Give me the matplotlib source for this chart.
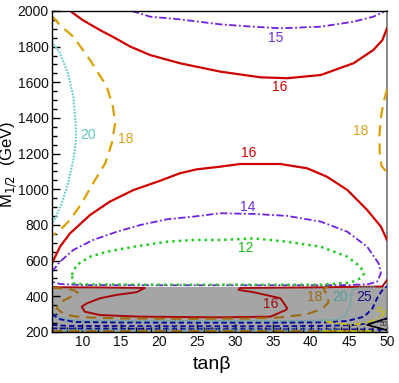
import matplotlib
matplotlib.use("Agg")
import matplotlib.pyplot as plt
from matplotlib.ticker import MultipleLocator

plt.rcParams['font.family'] = ['Liberation Sans', 'DejaVu Sans']

# ---- data (tanβ, M_1/2 in GeV) ----
x_range = [6, 50]
y_range = [200, 2000]
x_ticks = [10, 15, 20, 25, 30, 35, 40, 45, 50]
y_ticks = [200, 400, 600, 800, 1000, 1200, 1400, 1600, 1800, 2000]
excluded_top = 455  # grey excluded band top

red16_top_x = [8.4, 10, 12.3, 14, 16.3, 18.9, 22.8, 28.1, 33.4, 36.9, 41.3, 45.6, 48.2, 49.4, 50]
red16_top_y = [2000, 1950, 1893, 1855, 1800, 1753, 1707, 1660, 1628, 1623, 1641, 1707, 1781, 1837, 1903]

purple15_x = [16.5, 18.9, 22.8, 28.1, 32.4, 36, 41.3, 45.6, 48.2, 49.6]
purple15_y = [2000, 1968, 1953, 1925, 1912, 1903, 1912, 1940, 1968, 1996]

gold18_left_x = [6, 7.05, 8.8, 11, 13.2, 14.0, 14.3, 13.85, 13.0, 11.4, 9.9, 8.37, 6.83, 6.1]
gold18_left_y = [1972, 1921, 1856, 1725, 1576, 1463, 1371, 1258, 1146, 1034, 922, 828, 762, 744]

cyan20_left_x = [6, 7.05, 8.1, 8.8, 9.1, 9.15, 9.0, 8.8, 8.1, 7.3, 6.2, 6]
cyan20_left_y = [1828, 1763, 1651, 1520, 1370, 1290, 1220, 1165, 1034, 922, 819, 800]

gold18_right_x = [50, 49.5, 49.2, 49.0, 49.05, 49.3, 50]
gold18_right_y = [1560, 1480, 1400, 1300, 1200, 1130, 1095]

red16_mid_x = [6, 7.05, 8.37, 11, 13.6, 16.7, 20.2, 22.8, 25, 28.1, 30.7, 36, 39.5, 42.1, 44.8, 47.4, 49.2, 50]
red16_mid_y = [585, 678, 753, 856, 931, 996, 1048, 1090, 1112, 1127, 1142, 1142, 1118, 1071, 996, 884, 791, 716]

purple14_x = [6, 7.05, 8.8, 11.4, 14.5, 17.6, 21.1, 24.6, 28.1, 32.5, 36.9, 41.3, 44.8, 47.4, 48.9, 49.2,
              48.7, 47.5, 45, 40, 30, 20, 10, 7.05, 6]
purple14_y = [538, 594, 660, 716, 762, 800, 832, 847, 866, 862, 851, 819, 762, 678, 585, 529,
              482, 468, 463, 462, 462, 462, 463, 469, 482]

green12_x = [8.6, 9.25, 11, 13.2, 16.7, 21.1, 24.6, 28.1, 32.5, 36.9, 41.3, 44.8, 46.5, 47, 46.5, 45.2,
             41.3, 30, 20, 10, 8.8, 8.6]
green12_y = [520, 576, 622, 650, 678, 706, 716, 716, 725, 706, 678, 622, 566, 529, 501, 477,
             465, 465, 465, 467, 474, 520]

red16_low_x = [6, 12, 18.2, 17.1, 14.5, 12.3, 10.6, 9.9, 10.3, 12.3, 17.6, 28.1, 34.7, 36.7, 36.9, 36,
               32.5, 30.5, 30.7, 40, 49.4, 50]
red16_low_y = [451, 450, 447, 423, 408, 389, 361, 342, 314, 295, 286, 282, 286, 323, 333, 389,
               423, 436, 447, 450, 455, 492]

gold18_low_x = [6, 7.5, 8.8, 9.4, 8.6, 7.6, 6.8, 6.6, 7.1, 7.8, 9, 11, 15, 25, 32, 36, 39.5, 41.5,
                42.3, 42.3, 41.8, 41.7, 42.3]
gold18_low_y = [448, 444, 436, 420, 400, 378, 355, 335, 315, 298, 288, 281, 276, 274, 276, 282, 300, 330,
                365, 400, 430, 445, 453]

cyan20_low_x = [6, 6.6, 7.9, 10, 20, 30, 40, 43.5, 44.5, 45.1, 45.3, 45.5, 46.5, 48.5]
cyan20_low_y = [310, 285, 267, 263, 262, 262, 262, 270, 295, 340, 400, 440, 450, 452]

blue25_x = [6, 7, 9, 15, 25, 35, 42, 44.8, 47, 48.1, 48.7, 49.3, 49.8, 50]
blue25_y = [300, 272, 256, 253, 252, 252, 254, 262, 286, 333, 389, 430, 451, 455]

blue_b_x = [6, 8, 20, 35, 42, 46, 48.5, 50]
blue_b_y = [240, 234, 232, 232, 234, 240, 255, 275]

blue_c_x = [6, 20, 35, 45, 50]
blue_c_y = [220, 216, 215, 214, 214]

cyan_b_x = [6, 20, 35, 44]
cyan_b_y = [209, 209, 209, 209]

gold_b_x = [6, 20, 35, 47]
gold_b_y = [203, 203, 203, 203]

yellow35_x = [42, 44, 45.6, 47.8, 49.2, 49.8]
yellow35_y = [258, 246, 240, 258, 286, 323]
yellow35b_x = [41.5, 44, 47, 48.5]
yellow35b_y = [205, 205, 205, 207]

black50_x = [50, 47.4, 50]
black50_y = [277, 240, 210]

labels = [
    ("15", 35.4, 1847, '#6a2fd6', 10),
    ("16", 35.9, 1576, '#d00000', 10),
    ("20", 10.8, 1305, '#5cc8c8', 10),
    ("18", 15.7, 1282, '#d9a21b', 10),
    ("18", 46.6, 1329, '#d9a21b', 10),
    ("16", 31.9, 1202, '#d00000', 10),
    ("14", 31.7, 903, '#6a2fd6', 10),
    ("12", 31.5, 669, '#22bb22', 10),
    ("16", 34.7, 357, '#a00c0c', 10),
    ("18", 40.5, 395, '#9c6c18', 10),
    ("20", 43.8, 395, '#4f9c9c', 10),
    ("25", 47.0, 395, '#14148c', 10),
    ("35", 49.0, 320, '#c8c000', 5),
    ("50", 49.5, 240, '#222222', 5),
]

# ---- figure ----
fig = plt.figure(figsize=(3.99, 3.83), dpi=100)
ax = fig.add_axes([0.1303, 0.1332, 0.8396, 0.8381])
ax.set_xlim(*x_range)
ax.set_ylim(*y_range)

ax.axhspan(y_range[0], excluded_top, color='#a5a5a5', zorder=1, lw=0)

dash = (0, (5, 3.2))
dashdot = (0, (4, 1.4, 1, 1.4))
dot = (0, (0.8, 0.7))
gdot = (0, (1, 1.6))
bdash = (0, (2.8, 1.6))

ax.plot(red16_top_x, red16_top_y, color='#d00000', lw=1.6, zorder=3)
ax.plot(red16_mid_x, red16_mid_y, color='#d00000', lw=1.6, zorder=3)
ax.plot(purple15_x, purple15_y, color='#7020e0', lw=1.3, ls=dashdot, zorder=3)
ax.plot(purple14_x, purple14_y, color='#7020e0', lw=1.3, ls=dashdot, zorder=3)
ax.plot(gold18_left_x, gold18_left_y, color='#d9a000', lw=1.6, ls=dash, zorder=3)
ax.plot(gold18_right_x, gold18_right_y, color='#d9a000', lw=1.6, ls=dash, zorder=3)
ax.plot(cyan20_left_x, cyan20_left_y, color='#5ccccc', lw=1.5, ls=dot, zorder=3)
ax.plot(green12_x, green12_y, color='#22cc22', lw=1.8, ls=gdot, zorder=3)

ax.plot(red16_low_x, red16_low_y, color='#a80808', lw=1.4, zorder=3)
ax.plot(gold18_low_x, gold18_low_y, color='#9c6c10', lw=1.5, ls=dash, zorder=3)
ax.plot(cyan20_low_x, cyan20_low_y, color='#5aa8a8', lw=1.3, ls=dot, zorder=3)
ax.plot(blue25_x, blue25_y, color='#0a0aa0', lw=1.4, ls=bdash, zorder=3)
ax.plot(blue_b_x, blue_b_y, color='#0a0aa0', lw=1.4, ls=bdash, zorder=3)
ax.plot(blue_c_x, blue_c_y, color='#0a0aa0', lw=1.4, ls=bdash, zorder=3)
ax.plot(cyan_b_x, cyan_b_y, color='#5aa8a8', lw=1.2, ls=dot, zorder=3)
ax.plot(gold_b_x, gold_b_y, color='#9c6c10', lw=1.5, ls=dash, zorder=3)
ax.plot(yellow35_x, yellow35_y, color='#c8c000', lw=1.3, ls=dashdot, zorder=3)
ax.plot(yellow35b_x, yellow35b_y, color='#c8c000', lw=1.3, ls=dashdot, zorder=3)
ax.plot(black50_x, black50_y, color='black', lw=1.2, zorder=3)

for txt, lx, ly, c, fs in labels:
    ax.text(lx, ly, txt, color=c, fontsize=fs, ha='center', va='center', zorder=4)

ax.set_xticks(x_ticks)
ax.set_yticks(y_ticks)
ax.xaxis.set_minor_locator(MultipleLocator(1))
ax.yaxis.set_minor_locator(MultipleLocator(50))
ax.tick_params(which='both', direction='in', top=False, right=False, labelsize=10, width=1, colors='black')
ax.tick_params(which='major', length=6, pad=2.5)
ax.tick_params(which='minor', length=3.5)
for t in ax.get_xticklabels() + ax.get_yticklabels():
    t.set_color('#111111')

ax.spines['right'].set_color('#888888')
ax.spines['right'].set_linewidth(1.4)
for s in ('top', 'left', 'bottom'):
    ax.spines[s].set_linewidth(1.0)
    ax.spines[s].set_zorder(5)

fig.text(0.532, 0.047, 'tanβ', fontsize=14, ha='center', va='center')
fig.text(0.022, 0.57, r'M$_{1/2}$  (GeV)', fontsize=12, ha='center', va='center', rotation=90)

fig.savefig('out.png', dpi=100)
